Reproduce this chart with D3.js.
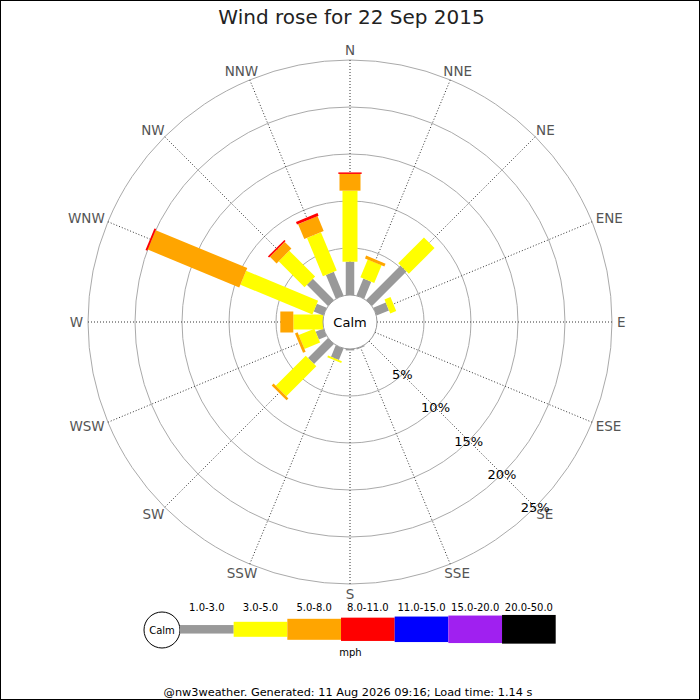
<!DOCTYPE html>
<html>
<head>
<meta charset="utf-8">
<script src="https://cdn.jsdelivr.net/npm/d3@7"></script>
<style>
  html, body { margin: 0; padding: 0; background: #fff; }
  svg { display: block; font-family: "DejaVu Sans", sans-serif; }
</style>
</head>
<body>
<svg id="chart" width="700" height="700"></svg>
<script>
// ---------- data ----------
const directions = ["N","NNE","NE","ENE","E","ESE","SE","SSE","S","SSW","SW","WSW","W","WNW","NW","NNW"];
const speedBins = ["1.0-3.0","3.0-5.0","5.0-8.0","8.0-11.0","11.0-15.0","15.0-20.0","20.0-50.0"];
// percentage of time per direction, for each speed bin (mph)
const bin1to3   = [3.54, 1.94, 5.18, 1.43, 0, 0, 0, 0.12, 0.15, 1.31, 2.99, 0.90, 0,    1.13, 3.17, 2.73];
const bin3to5   = [7.56, 2.05, 3.87, 0.69, 0, 0, 0, 0,    0,    0.20, 4.52, 1.80, 3.16, 8.29, 3.89, 4.41];
const bin5to8   = [1.78, 0.32, 0,    0,    0, 0, 0, 0,    0,    0,    0.28, 0.30, 1.38, 10.54, 1.00, 1.72];
const bin8to11  = [0.16, 0,    0,    0,    0, 0, 0, 0,    0,    0,    0,    0,    0,    0.20, 0.18, 0.30];
const bin11to15 = [0,0,0,0,0,0,0,0,0,0,0,0,0,0,0,0];
const bin15to20 = [0,0,0,0,0,0,0,0,0,0,0,0,0,0,0,0];
const bin20to50 = [0,0,0,0,0,0,0,0,0,0,0,0,0,0,0,0];
const ringTicks = [5, 10, 15, 20, 25];
const titleText = "Wind rose for 22 Sep 2015";
const unitText = "mph";
const calmText = "Calm";
const footerText = "@nw3weather. Generated: 11 Aug 2026 09:16; Load time: 1.14 s";

// ---------- style ----------
const binColors = ["#999999", "#ffff00", "#ffa500", "#ff0000", "#0000ff", "#a020f0", "#000000"];
const binWidths = [8.5, 15, 21, 23.3, 25.5, 27.5, 28.7];

const series = [bin1to3, bin3to5, bin5to8, bin8to11, bin11to15, bin15to20, bin20to50];

const svg = d3.select("#chart");
const W = 700, H = 700;
const cx = 350, cy = 322;
const calmR = 27, outerR = 262;

svg.append("rect").attr("x", 0.5).attr("y", 0.5).attr("width", W - 1).attr("height", H - 1)
  .attr("fill", "#fff").attr("stroke", "#000").attr("stroke-width", 1);

const r = d3.scaleLinear().domain([0, 25]).range([calmR, outerR]);
const angle = d3.scaleLinear().domain([0, directions.length]).range([0, 360]);

const g = svg.append("g").attr("transform", `translate(${cx},${cy})`);

// rings
g.selectAll("circle.ring").data(ringTicks).join("circle")
  .attr("class", "ring").attr("r", d => r(d))
  .attr("fill", "none").attr("stroke", "#aaaaaa").attr("stroke-width", 1);

// spokes
g.selectAll("line.spoke").data(directions).join("line")
  .attr("class", "spoke")
  .attr("x1", (d, i) => calmR * Math.sin(angle(i) * Math.PI / 180))
  .attr("y1", (d, i) => -calmR * Math.cos(angle(i) * Math.PI / 180))
  .attr("x2", (d, i) => outerR * Math.sin(angle(i) * Math.PI / 180))
  .attr("y2", (d, i) => -outerR * Math.cos(angle(i) * Math.PI / 180))
  .attr("stroke", "#333").attr("stroke-width", 1).attr("stroke-dasharray", "1,2");

// bars
const segs = [];
directions.forEach((dir, i) => {
  let cum = 0;
  series.forEach((s, k) => {
    const v = s[i];
    if (v > 0) segs.push({ i, k, start: cum, end: cum + v });
    cum += v;
  });
});
g.selectAll("rect.seg").data(segs).join("rect")
  .attr("class", "seg")
  .attr("transform", d => `rotate(${angle(d.i)})`)
  .attr("x", d => -binWidths[d.k] / 2)
  .attr("width", d => binWidths[d.k])
  .attr("y", d => -r(d.end))
  .attr("height", d => r(d.end) - r(d.start))
  .attr("fill", d => binColors[d.k]);

// calm circle
g.append("circle").attr("r", calmR).attr("fill", "#fff").attr("stroke", "#999").attr("stroke-width", 1);
g.append("text").attr("x", 0).attr("y", 13 * 0.365).attr("text-anchor", "middle")
  .attr("font-size", 13).attr("fill", "#000").text(calmText);

// compass labels
const labR = 267, labFs = 13.5;
g.selectAll("text.dir").data(directions).join("text")
  .attr("class", "dir")
  .attr("font-size", labFs).attr("fill", "#555").attr("text-anchor", "middle")
  .text(d => d)
  .each(function (d, i) {
    const a = angle(i) * Math.PI / 180;
    const w = this.getComputedTextLength();
    const x = (labR + w / 2) * Math.sin(a);
    const y = -(labR + 5) * Math.cos(a);
    d3.select(this).attr("x", x).attr("y", y + labFs * 0.365);
  });

// percent labels along SE
g.selectAll("text.pct").data(ringTicks).join("text")
  .attr("class", "pct")
  .attr("font-size", 13).attr("fill", "#000").attr("text-anchor", "middle")
  .attr("x", d => r(d) * Math.SQRT1_2)
  .attr("y", d => r(d) * Math.SQRT1_2 + 13 * 0.365)
  .text(d => d + "%");

// title
svg.append("text").attr("x", 351.5).attr("y", 24).attr("text-anchor", "middle")
  .attr("font-size", 20).attr("fill", "#222").text(titleText);

// legend
const legX = d3.scaleBand().domain(speedBins).range([180, 555.7]).padding(0);
const legCy = 629.3;
const leg = svg.append("g");
leg.append("circle").attr("cx", 162).attr("cy", 630).attr("r", 18)
  .attr("fill", "#fff").attr("stroke", "#000").attr("stroke-width", 1);
leg.append("text").attr("x", 162).attr("y", 630 + 10 * 0.365).attr("text-anchor", "middle")
  .attr("font-size", 10).attr("fill", "#000").text(calmText);
leg.selectAll("rect").data(speedBins).join("rect")
  .attr("x", d => legX(d)).attr("width", legX.bandwidth())
  .attr("y", (d, k) => legCy - binWidths[k] / 2).attr("height", (d, k) => binWidths[k])
  .attr("fill", (d, k) => binColors[k]);
leg.selectAll("text.lab").data(speedBins).join("text")
  .attr("class", "lab")
  .attr("x", d => legX(d) + legX.bandwidth() / 2).attr("y", 610.5)
  .attr("text-anchor", "middle").attr("font-size", 10).attr("fill", "#000").text(d => d);
leg.append("text").attr("x", 350.5).attr("y", 656).attr("text-anchor", "middle")
  .attr("font-size", 10).attr("fill", "#000").text(unitText);

// footer
svg.append("text").attr("x", 348).attr("y", 696).attr("text-anchor", "middle")
  .attr("font-size", 11.3).attr("fill", "#000").text(footerText);
</script>
</body>
</html>
